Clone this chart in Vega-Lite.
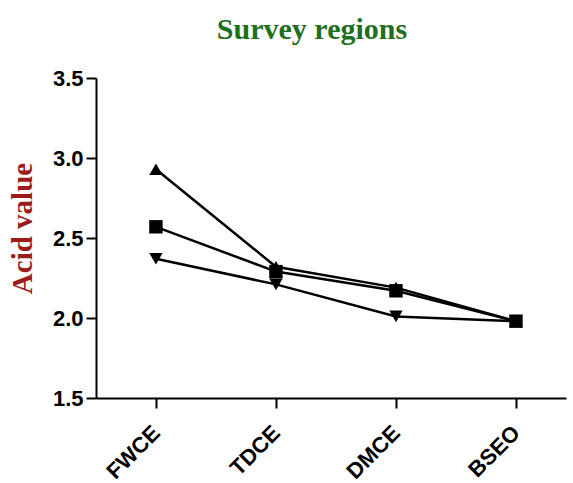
{
  "$schema": "https://vega.github.io/schema/vega-lite/v6.json",
  "width": 470,
  "height": 320,
  "autosize": "none",
  "padding": {"left": 96, "top": 78, "right": 7, "bottom": 85},
  "background": "white",
  "title": {
    "text": "Survey regions",
    "font": "Liberation Serif",
    "fontSize": 30,
    "fontWeight": "bold",
    "color": "#1f6f1f",
    "anchor": "middle",
    "dx": -19,
    "offset": 22
  },
  "config": {"view": {"stroke": null}},
  "data": {
    "values": [
      {"series": "S1", "region": "FWCE", "value": 2.93},
      {"series": "S1", "region": "TDCE", "value": 2.32},
      {"series": "S1", "region": "DMCE", "value": 2.19},
      {"series": "S1", "region": "BSEO", "value": 1.98},
      {"series": "S2", "region": "FWCE", "value": 2.57},
      {"series": "S2", "region": "TDCE", "value": 2.29},
      {"series": "S2", "region": "DMCE", "value": 2.17},
      {"series": "S2", "region": "BSEO", "value": 1.98},
      {"series": "S3", "region": "FWCE", "value": 2.37},
      {"series": "S3", "region": "TDCE", "value": 2.21},
      {"series": "S3", "region": "DMCE", "value": 2.01},
      {"series": "S3", "region": "BSEO", "value": 1.98}
    ]
  },
  "encoding": {
    "x": {
      "field": "region",
      "type": "nominal",
      "sort": ["FWCE", "TDCE", "DMCE", "BSEO"],
      "scale": {"type": "point", "padding": 0.458, "align": 0.545},
      "axis": {
        "title": null,
        "labelAngle": -45,
        "labelAlign": "right",
        "labelBaseline": "middle",
        "labelPadding": 21,
        "labelFont": "Liberation Sans",
        "labelFontSize": 22,
        "labelFontWeight": "bold",
        "labelColor": "black",
        "tickSize": 10,
        "tickWidth": 2,
        "tickColor": "black",
        "domainWidth": 2,
        "domainColor": "black",
        "grid": false
      }
    },
    "y": {
      "field": "value",
      "type": "quantitative",
      "scale": {"domain": [1.5, 3.5], "nice": false, "zero": false},
      "axis": {
        "title": "Acid value",
        "titleFont": "Liberation Serif",
        "titleFontSize": 29,
        "titleFontWeight": "bold",
        "titleColor": "#9c1c1c",
        "titlePadding": 15,
        "titleY": 150,
        "values": [1.5, 2.0, 2.5, 3.0, 3.5],
        "format": ".1f",
        "labelFont": "Liberation Sans",
        "labelFontSize": 22,
        "labelFontWeight": "bold",
        "labelColor": "black",
        "labelPadding": 3,
        "tickSize": 10,
        "tickWidth": 2,
        "tickColor": "black",
        "domainWidth": 2,
        "domainColor": "black",
        "grid": false
      }
    }
  },
  "layer": [
    {
      "mark": {"type": "line", "color": "black", "strokeWidth": 2.5},
      "encoding": {"detail": {"field": "series"}}
    },
    {
      "mark": {"type": "point", "filled": true, "color": "black", "size": 180, "opacity": 1},
      "encoding": {
        "shape": {
          "field": "series",
          "scale": {"domain": ["S1", "S2", "S3"], "range": ["triangle-up", "square", "triangle-down"]},
          "legend": null
        }
      }
    }
  ]
}
